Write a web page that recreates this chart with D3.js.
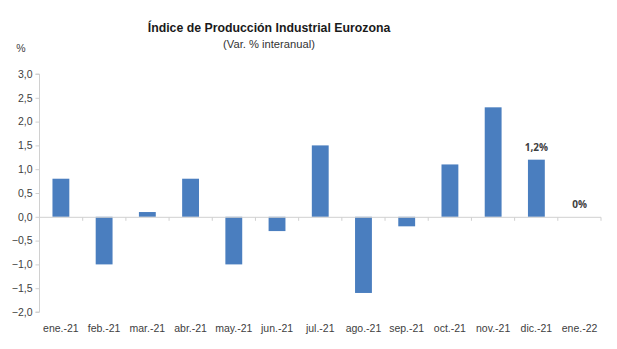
<!DOCTYPE html>
<meta charset="utf-8">
<style>
body { margin: 0; background: #fff; }
text { font-family: "Liberation Sans", Arial, sans-serif; fill: #404040; }
.title { font-size: 12.3px; font-weight: bold; fill: #1a1a1a; }
.subtitle { font-size: 11.2px; fill: #333; }
.tick text { font-size: 10.5px; fill: #404040; }
.lbl { font-family: "Open Sans", sans-serif; font-size: 10px; font-weight: bold; fill: #404040; }
</style>
<svg width="617" height="349"></svg>
<script src="https://cdn.jsdelivr.net/npm/d3@7"></script>
<script>

const months = ["ene.-21", "feb.-21", "mar.-21", "abr.-21", "may.-21", "jun.-21", "jul.-21",
                "ago.-21", "sep.-21", "oct.-21", "nov.-21", "dic.-21", "ene.-22"];
const values = [0.8, -1.0, 0.1, 0.8, -1.0, -0.3, 1.5, -1.6, -0.2, 1.1, 2.3, 1.2, 0];
const yTicks = [3, 2.5, 2, 1.5, 1, 0.5, 0, -0.5, -1, -1.5, -2];
// only the last two months carry a data label
const labels = [null, null, null, null, null, null, null, null, null, null, null, "1,2%", "0%"];

const svg = d3.select("svg");

const x = d3.scaleBand()
    .domain(months)
    .range([39.5, 601])
    .paddingInner(0.61)
    .paddingOuter(0.3);

const y = d3.scaleLinear()
    .domain([-2, 3])
    .range([312, 74]);

const fmt = d => d3.format(".1f")(d).replace(".", ",");

//titles
svg.append("text")
    .attr("class", "title")
    .attr("x", 269).attr("y", 32)
    .attr("text-anchor", "middle")
    .text("Índice de Producción Industrial Eurozona");
svg.append("text")
    .attr("class", "subtitle")
    .attr("x", 269).attr("y", 48)
    .attr("text-anchor", "middle")
    .text("(Var. % interanual)");
svg.append("text")
    .attr("x", 21).attr("y", 52)
    .attr("text-anchor", "middle")
    .style("font-size", "10.5px")
    .text("%");

//y axis
const yAxis = svg.append("g")
    .attr("transform", "translate(39.5,0)")
    .call(d3.axisLeft(y).tickValues(yTicks).tickFormat(fmt).tickSize(4).tickPadding(3));
yAxis.selectAll("path, line").attr("stroke", "#d0d0d0");
yAxis.select(".domain").attr("d", `M-4,${y(3)}H0V${y(-2)}H-4`);

//bars
svg.append("g")
  .selectAll("rect")
  .data(values)
  .join("rect")
    .attr("x", (d, i) => x(months[i]))
    .attr("width", x.bandwidth())
    .attr("y", d => y(Math.max(0, d)))
    .attr("height", d => Math.abs(y(d) - y(0)))
    .attr("fill", "#4a7ebf");

//zero line with category ticks
const x0 = x.range()[0];
const x1 = x.range()[1];
const zero = svg.append("g");
zero.append("line")
    .attr("x1", x0).attr("x2", x1)
    .attr("y1", y(0) + 0.5).attr("y2", y(0) + 0.5)
    .attr("stroke", "#d0d0d0");
zero.selectAll(".ztick")
  .data(d3.range(1, months.length + 1))
  .join("line")
    .attr("x1", i => x0 + i * (x1 - x0) / months.length)
    .attr("x2", i => x0 + i * (x1 - x0) / months.length)
    .attr("y1", y(0) + 0.5).attr("y2", y(0) + 4)
    .attr("stroke", "#d0d0d0");

//month labels
svg.append("g")
  .selectAll("text")
  .data(months)
  .join("text")
    .attr("x", d => x(d) + x.bandwidth() / 2)
    .attr("y", 332)
    .attr("text-anchor", "middle")
    .style("font-size", "10.5px")
    .text(d => d);

//data labels
svg.append("g")
  .selectAll("text")
  .data(values.map((v, i) => ({v, i, l: labels[i]})).filter(d => d.l))
  .join("text")
    .attr("class", "lbl")
    .attr("x", d => x(months[d.i]) + x.bandwidth() / 2)
    .attr("y", d => y(Math.max(0, d.v)) - 9)
    .attr("text-anchor", "middle")
    .text(d => d.l);

</script>
